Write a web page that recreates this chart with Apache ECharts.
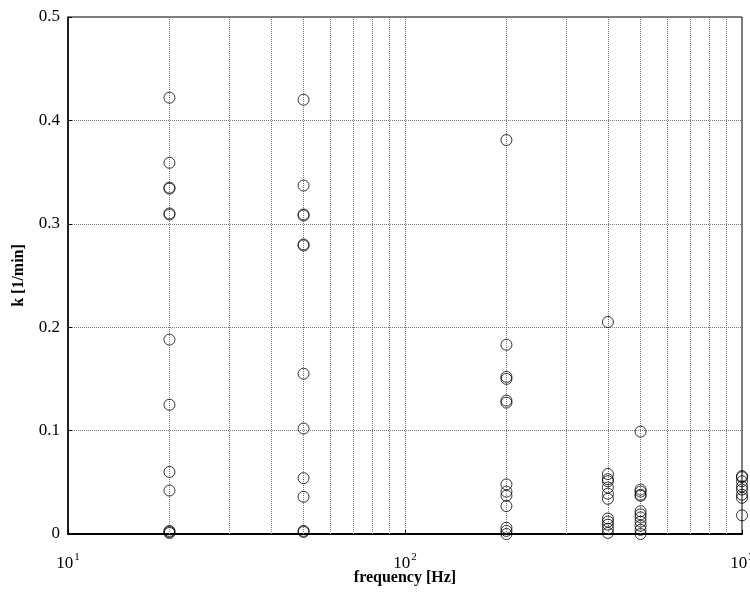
<!DOCTYPE html>
<html>
<head>
<meta charset="utf-8">
<script src="https://cdn.jsdelivr.net/npm/echarts@6/dist/echarts.min.js"></script>
<style>
  html, body { margin: 0; padding: 0; background: #fff; }
  #chart { width: 750px; height: 592px; }
</style>
</head>
<body>
<div id="chart"></div>
<script>
// frequencies (Hz) and measured k values at each one
var freqs = [20, 50, 200, 400, 500, 1000]
var k20 = [0.422, 0.359, 0.335, 0.334, 0.310, 0.309, 0.188, 0.125, 0.060, 0.042, 0.003, 0.002, 0.001]
var k50 = [0.420, 0.337, 0.309, 0.308, 0.280, 0.279, 0.155, 0.102, 0.054, 0.036, 0.003, 0.002, -0.001]
var k200 = [0.381, 0.183, 0.152, 0.150, 0.129, 0.127, 0.048, 0.041, 0.037, 0.027, 0.006, 0.003, 0.000, -0.001]
var k400 = [0.205, 0.058, 0.053, 0.051, 0.045, 0.039, 0.034, 0.015, 0.012, 0.009, 0.005, 0.001, -0.002]
var k500 = [0.099, 0.043, 0.041, 0.038, 0.037, 0.022, 0.019, 0.016, 0.012, 0.008, 0.004, 0.000]
var k1000 = [0.056, 0.055, 0.051, 0.046, 0.043, 0.038, 0.035, 0.018]
var kValues = [k20, k50, k200, k400, k500, k1000]
// minor log grid lines
var minorX = [20, 30, 40, 50, 60, 70, 80, 90, 200, 300, 400, 500, 600, 700, 800, 900]
var yTicks = [0, 0.1, 0.2, 0.3, 0.4, 0.5]

var points = []
freqs.forEach(function (f, i) {
  kValues[i].forEach(function (k) { points.push([f, k]) })
})

var font = '"Liberation Serif", "Times New Roman", serif'
var myChart = echarts.init(document.getElementById('chart'))
myChart.setOption({
  animation: false,
  grid: {
    left: 68,
    top: 17,
    right: 8,
    bottom: 58,
    outerBoundsMode: 'none',
    show: true,
    borderColor: '#000',
    borderWidth: 1
  },
  xAxis: {
    type: 'log',
    logBase: 10,
    min: 10,
    max: 1000,
    name: 'frequency [Hz]',
    nameLocation: 'middle',
    nameGap: 36,
    nameMoveOverlap: false,
    nameTextStyle: { fontFamily: font, fontWeight: 'bold', fontSize: 16, color: '#000' },
    axisLine: { lineStyle: { color: '#000', width: 2 } },
    axisTick: { inside: true, length: 4, lineStyle: { color: '#000' } },
    axisLabel: {
      margin: 18,
      color: '#000',
      formatter: function (v) {
        return '{b|10}{s|' + Math.round(Math.log10(v)) + '}'
      },
      rich: {
        b: { fontFamily: font, fontSize: 17, color: '#000' },
        s: { fontFamily: font, fontSize: 11, color: '#000', padding: [0, 0, 12, 1] }
      }
    },
    splitLine: { show: true, lineStyle: { color: '#777', type: 'dotted', width: 1 } }
  },
  yAxis: {
    type: 'value',
    min: yTicks[0],
    max: yTicks[yTicks.length - 1],
    interval: 0.1,
    name: 'k [1/min]',
    nameLocation: 'middle',
    nameGap: 41,
    nameTextStyle: { fontFamily: font, fontWeight: 'bold', fontSize: 16, color: '#000' },
    axisLine: { show: true, lineStyle: { color: '#000', width: 1.5 } },
    axisTick: { show: true, inside: true, length: 4, lineStyle: { color: '#000' } },
    axisLabel: { fontFamily: font, fontSize: 17, color: '#000', margin: 8 },
    splitLine: { show: true, lineStyle: { color: '#777', type: 'dotted', width: 1 } }
  },
  series: [
    {
      type: 'scatter',
      data: points,
      symbol: 'circle',
      symbolSize: 11,
      itemStyle: { color: 'transparent', borderColor: '#000', borderWidth: 1 },
      z: 5,
      markLine: {
        silent: true,
        symbol: ['none', 'none'],
        label: { show: false },
        lineStyle: { color: '#777', type: 'dotted', width: 1 },
        data: minorX.map(function (v) { return { xAxis: v } })
      }
    }
  ]
})
</script>
</body>
</html>
